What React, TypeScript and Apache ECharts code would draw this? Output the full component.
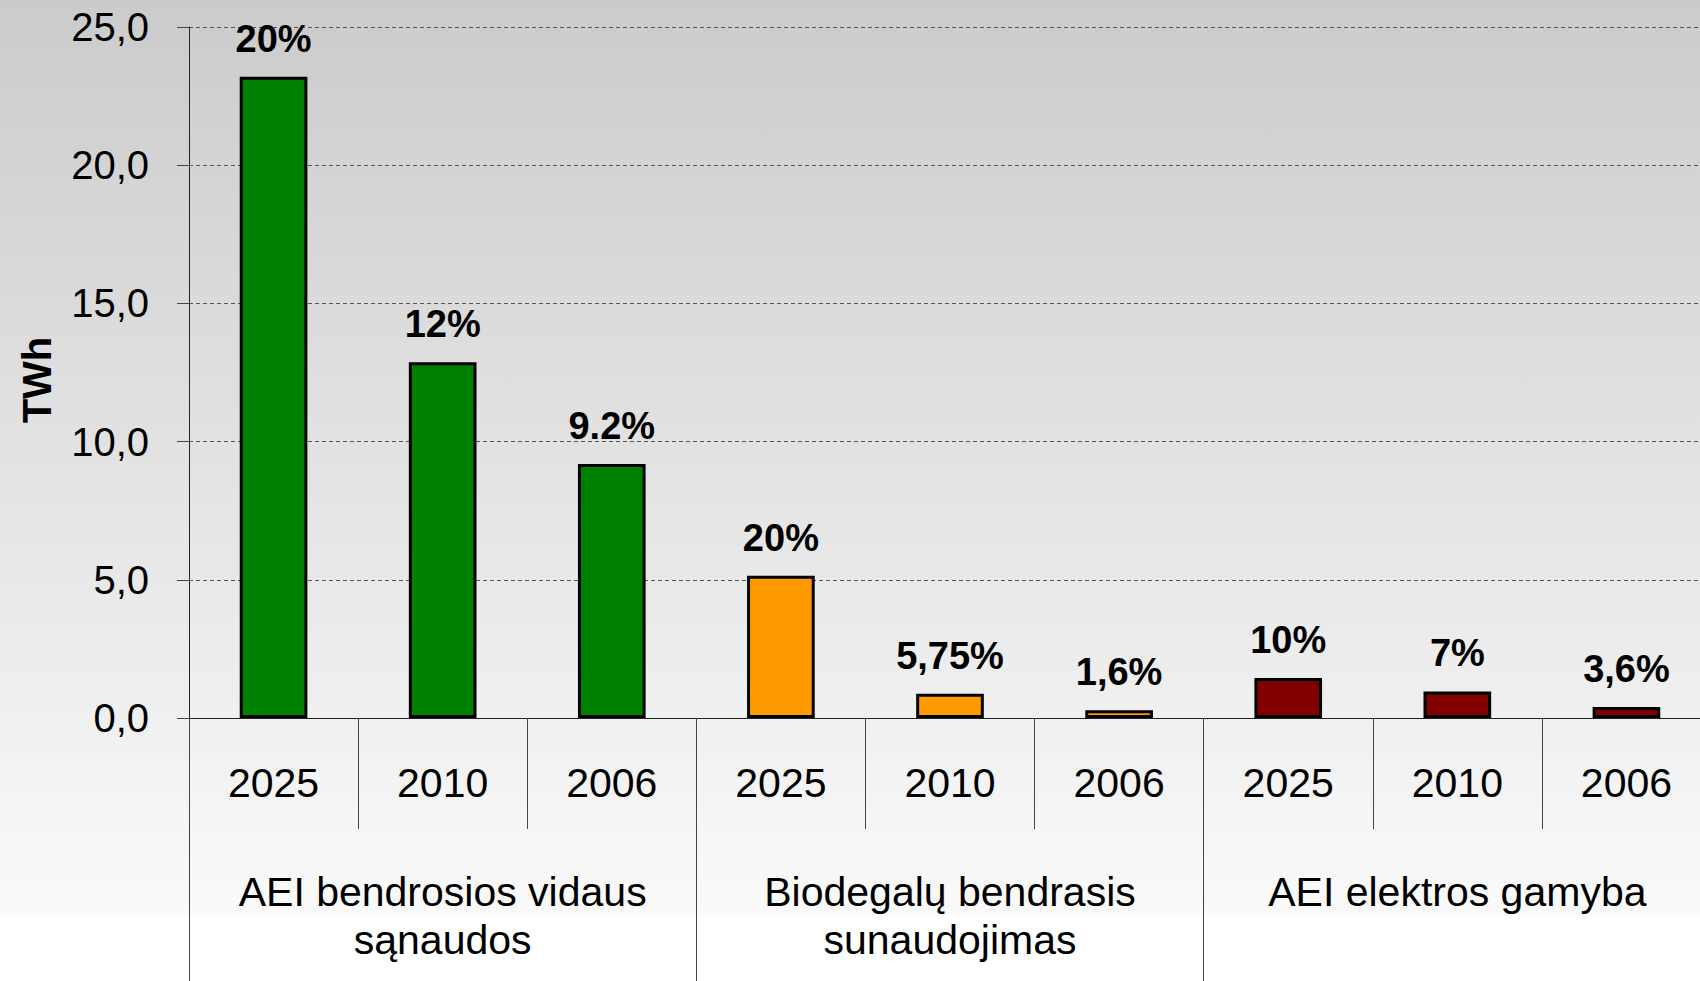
import React, { useEffect, useRef } from "react";
import * as echarts from "echarts";

const years = ["2025", "2010", "2006", "2025", "2010", "2006", "2025", "2010", "2006"];
const groups = ["AEI bendrosios vidaus\nsąnaudos", "Biodegalų bendrasis\nsunaudojimas", "AEI elektros gamyba"];
const values = [23.2, 12.87, 9.19, 5.15, 0.88, 0.28, 1.45, 0.96, 0.4];
const pctLabels = ["20%", "12%", "9.2%", "20%", "5,75%", "1,6%", "10%", "7%", "3,6%"];
const groupColors = ["#008000", "#FF9900", "#800000"];
const groupOfBar = [0, 0, 0, 1, 1, 1, 2, 2, 2];
const yTicks = { min: 0, max: 25, interval: 5 };

const FONT = "'Liberation Sans', Arial, sans-serif";

export default function App() {
  const ref = useRef<HTMLDivElement>(null);
  useEffect(() => {
    if (!ref.current) return;
    const chart = echarts.init(ref.current, null, { renderer: "svg" });
    chart.setOption({
      animation: false,
      textStyle: { fontFamily: FONT },
      graphic: [
        {
          type: "rect",
          left: 0,
          top: 0,
          z: -100,
          silent: true,
          shape: { width: 1700, height: 915 },
          style: {
            fill: new echarts.graphic.LinearGradient(0, 0, 0, 1, [
              { offset: 0, color: "#cbcbcb" },
              { offset: 1, color: "#fafafa" },
            ]),
          },
        },
        {
          type: "text",
          x: 37,
          y: 380,
          rotation: Math.PI / 2,
          style: {
            text: "TWh",
            fontSize: 40,
            fontWeight: "bold",
            fontFamily: FONT,
            fill: "#000",
            align: "center",
            verticalAlign: "middle",
          },
        },
      ],
      grid: {
        left: 189,
        top: 27,
        right: -11,
        bottom: 263,
        containLabel: false,
        outerBoundsMode: "none",
      },
      xAxis: [
        {
          type: "category",
          data: years,
          position: "bottom",
          axisLine: { show: true, lineStyle: { color: "#222", width: 1 } },
          axisTick: { show: true, interval: 0, length: 111, lineStyle: { color: "#444", width: 1 } },
          axisLabel: { interval: 0, fontSize: 41, color: "#000", margin: 44, fontFamily: FONT },
          splitLine: { show: false },
        },
        {
          type: "category",
          data: groups,
          position: "bottom",
          axisLine: { show: false },
          axisTick: { show: true, interval: 0, length: 263, lineStyle: { color: "#444", width: 1 } },
          axisLabel: {
            interval: 0,
            fontSize: 41,
            lineHeight: 48,
            color: "#000",
            margin: 150,
            fontFamily: FONT,
            verticalAlign: "top",
          },
          splitLine: { show: false },
        },
      ],
      yAxis: {
        type: "value",
        min: yTicks.min,
        max: yTicks.max,
        interval: yTicks.interval,
        axisLine: { show: true, lineStyle: { color: "#222", width: 1 } },
        axisTick: { show: true, length: 12, lineStyle: { color: "#444" } },
        axisLabel: {
          fontSize: 40,
          color: "#000",
          margin: 40,
          fontFamily: FONT,
          formatter: (v: number) => v.toFixed(1).replace(".", ","),
        },
        splitLine: { show: true, lineStyle: { color: "#555", type: [4, 3], width: 1 } },
      },
      series: [
        {
          type: "bar",
          xAxisIndex: 0,
          barWidth: "40%",
          data: values.map((v, i) => ({
            value: v,
            itemStyle: { color: groupColors[groupOfBar[i]], borderColor: "#000", borderWidth: 3 },
          })),
          label: {
            show: true,
            position: "top",
            distance: 19,
            fontSize: 38,
            fontWeight: "bold",
            color: "#000",
            fontFamily: FONT,
            formatter: (p: any) => pctLabels[p.dataIndex],
          },
        },
      ],
    });
    return () => chart.dispose();
  }, []);
  return <div ref={ref} style={{ position: "absolute", left: 0, top: 0, width: 1700, height: 981 }} />;
}
